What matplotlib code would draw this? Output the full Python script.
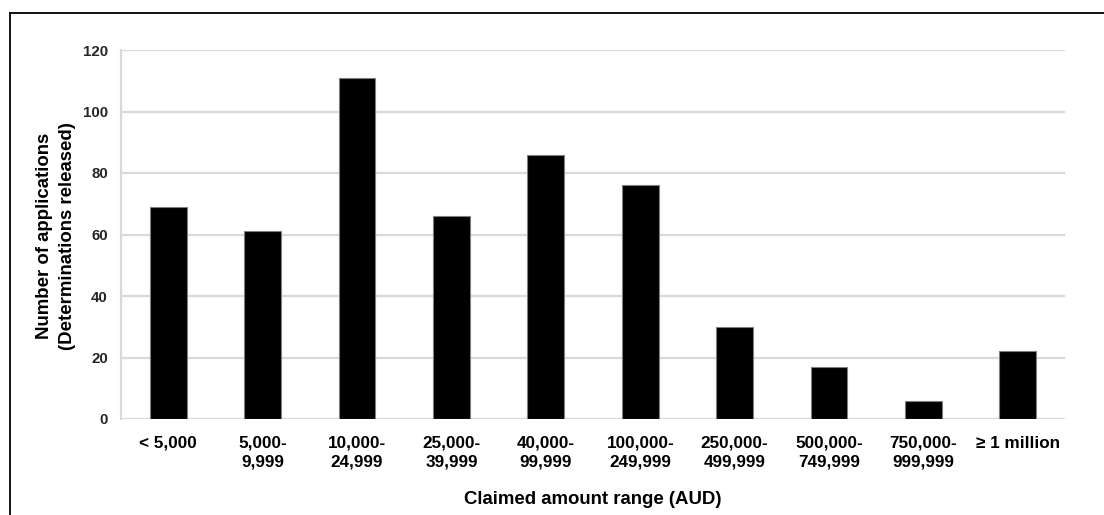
import numpy as np
import matplotlib
matplotlib.use("Agg")
import matplotlib.pyplot as plt
from matplotlib.lines import Line2D

# claimed amount ranges and number of applications
categories = ["< 5,000", "5,000-\n9,999", "10,000-\n24,999", "25,000-\n39,999",
              "40,000-\n99,999", "100,000-\n249,999", "250,000-\n499,999",
              "500,000-\n749,999", "750,000-\n999,999", "\u2265 1 million"]
counts = [69, 61, 111, 66, 86, 76, 30, 17, 6, 22]
yticks = [0, 20, 40, 60, 80, 100, 120]

plt.rcParams['font.family'] = ['Liberation Sans', 'DejaVu Sans']
plt.rcParams['font.weight'] = 'bold'

fig = plt.figure(figsize=(11.04, 5.15), dpi=100)
ax = fig.add_axes([121 / 1104, 1 - 419 / 515, (1065 - 121) / 1104, (419 - 50) / 515])

x = np.arange(len(categories))
ax.bar(x, counts, width=0.39, color='black', edgecolor='#7f7f7f', linewidth=0.8, zorder=3)

ax.set_xlim(-0.5, len(categories) - 0.5)
ax.set_ylim(0, 120)
ax.set_yticks(yticks)
ax.set_xticks(x)
ax.set_xticklabels(categories, fontsize=12.3, fontweight='bold', linespacing=1.3)
ax.tick_params(axis='x', length=0, pad=12)
ax.tick_params(axis='y', length=0, pad=9.5, labelsize=10.8, labelcolor='#262626')
for lab in ax.get_yticklabels():
    lab.set_fontweight('bold')

ax.grid(axis='y', color='#d9d9d9', linewidth=1.6, zorder=0)
for s in ['top', 'right', 'bottom']:
    ax.spines[s].set_visible(False)
ax.spines['left'].set_color('#d9d9d9')
ax.spines['left'].set_linewidth(1.6)

ax.set_xlabel("Claimed amount range (AUD)", fontsize=13.4, fontweight='bold', labelpad=16)
fig.text(56 / 1104, 1 - 236 / 515, "Number of applications\n(Determinations released)",
         rotation=90, ha='center', va='center', fontsize=13.4, fontweight='bold',
         multialignment='center', linespacing=1.4)

# outer frame (only left and top edges are inside the picture)
fig.add_artist(Line2D([10 / 1104, 10 / 1104], [0, 1 - 12.5 / 515], color='black', linewidth=1.3))
fig.add_artist(Line2D([10 / 1104, 1], [1 - 12.5 / 515, 1 - 12.5 / 515], color='black', linewidth=1.3))

fig.savefig("out.png", dpi=100)
